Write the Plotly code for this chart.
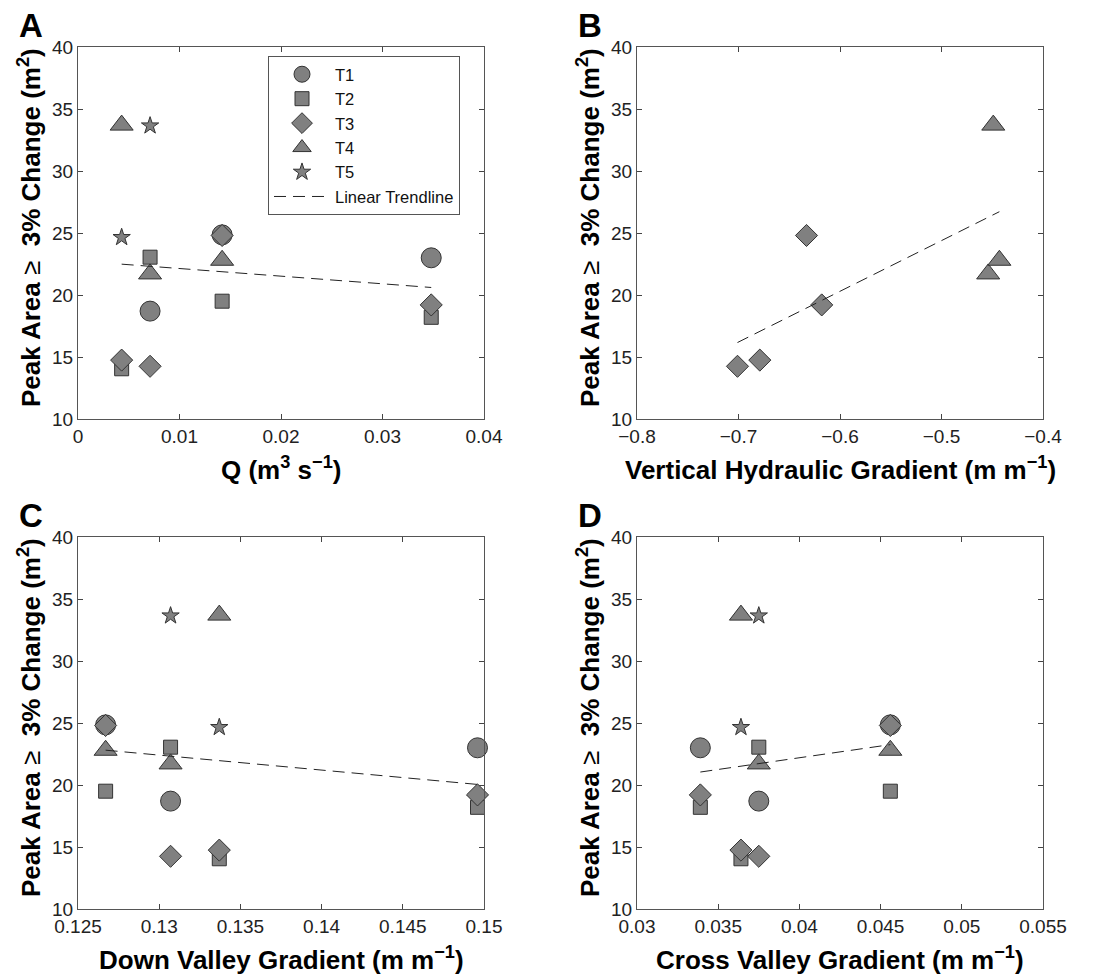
import numpy as np
import plotly.graph_objects as go

W, H = 1094, 979
FONT = "Liberation Sans"

# Reach-level explanatory variables (four reaches, ordered by discharge)
discharge = [0.0043, 0.0071, 0.0142, 0.0348]        # Q (m3 s-1)
down_valley = [0.1337, 0.1307, 0.1267, 0.1496]      # m m-1
cross_valley = [0.0364, 0.0375, 0.0456, 0.0339]     # m m-1

# Peak area with >= 3% change (m2) per transect and reach (None = not measured)
transects = ["T1", "T2", "T3", "T4", "T5"]
peak_t1 = [None, 18.7, 24.85, 23.0]
peak_t2 = [14.05, 23.05, 19.5, 18.2]
peak_t3 = [14.75, 14.25, 24.8, 19.2]
peak_t4 = [33.7, 21.7, 22.8, None]
peak_t5 = [24.65, 33.65, None, None]

# Vertical hydraulic gradient, measured on T3 and T4 only (m m-1)
vhg_t3 = [-0.679, -0.701, -0.633, -0.618]
vhg_t4 = [-0.449, -0.454, -0.443, None]

# Tick values and labels
yticks = [10, 15, 20, 25, 30, 35, 40]
xticks_a = [0, 0.01, 0.02, 0.03, 0.04]
xlabels_a = ["0", "0.01", "0.02", "0.03", "0.04"]
xticks_b = [-0.8, -0.7, -0.6, -0.5, -0.4]
xlabels_b = ["\u22120.8", "\u22120.7", "\u22120.6", "\u22120.5", "\u22120.4"]
xticks_c = [0.125, 0.13, 0.135, 0.14, 0.145, 0.15]
xlabels_c = ["0.125", "0.13", "0.135", "0.14", "0.145", "0.15"]
xticks_d = [0.03, 0.035, 0.04, 0.045, 0.05, 0.055]
xlabels_d = ["0.03", "0.035", "0.04", "0.045", "0.05", "0.055"]

peaks = [peak_t1, peak_t2, peak_t3, peak_t4, peak_t5]
symbols = ["circle", "square", "diamond", "triangle-up", "star"]
sizes = [20, 14, 17, 20, 13]
FILL = "#808080"
EDGE = "#333333"


def fx(p):
    return p / W


def fy(p):
    return 1 - p / H


panels = [
    dict(letter="A", n="", left=78, top=47, xvals=[discharge] * 5,
         ticks=xticks_a, labels=xlabels_a,
         xtitle="Q (m<sup>3</sup> s<sup>\u22121</sup>)"),
    dict(letter="B", n="2", left=637, top=47,
         xvals=[None, None, vhg_t3, vhg_t4, None],
         ticks=xticks_b, labels=xlabels_b,
         xtitle="Vertical Hydraulic Gradient (m m<sup>\u22121</sup>)"),
    dict(letter="C", n="3", left=78, top=537, xvals=[down_valley] * 5,
         ticks=xticks_c, labels=xlabels_c,
         xtitle="Down Valley Gradient (m m<sup>\u22121</sup>)"),
    dict(letter="D", n="4", left=637, top=537, xvals=[cross_valley] * 5,
         ticks=xticks_d, labels=xlabels_d,
         xtitle="Cross Valley Gradient (m m<sup>\u22121</sup>)"),
]
PW, PH = 406, 372

fig = go.Figure()
layout = dict(
    template="none",
    width=W, height=H, autosize=False,
    margin=dict(l=0, r=0, t=0, b=0, pad=0),
    paper_bgcolor="white", plot_bgcolor="white",
    font=dict(family=FONT, color="#111"),
    showlegend=True,
    legend=dict(
        x=fx(268), y=fy(56), xanchor="left", yanchor="top",
        bgcolor="white", bordercolor="#555", borderwidth=1,
        font=dict(family=FONT, size=16.5, color="#111"),
        itemwidth=56, tracegroupgap=0,
    ),
)
annotations = []

axis_common = dict(
    automargin=False,
    ticks="inside", ticklen=5, tickwidth=1, tickcolor="#444",
    showline=True, linecolor="#555", linewidth=1, mirror="ticks",
    showgrid=False, zeroline=False,
    tickfont=dict(family=FONT, size=19, color="#222"),
)

for pi, p in enumerate(panels):
    xa = "x" + p["n"]
    ya = "y" + p["n"]
    all_x, all_y = [], []
    for ti, name in enumerate(transects):
        xv = p["xvals"][ti]
        if xv is None:
            continue
        xs, ys = [], []
        for xval, yval in zip(xv, peaks[ti]):
            if xval is None or yval is None:
                continue
            xs.append(xval)
            ys.append(yval)
        all_x += xs
        all_y += ys
        fig.add_trace(go.Scatter(
            x=xs, y=ys, mode="markers", name=name, legendgroup=name,
            showlegend=(pi == 0), xaxis=xa, yaxis=ya, cliponaxis=False,
            marker=dict(symbol=symbols[ti], size=sizes[ti], color=FILL,
                        line=dict(color=EDGE, width=1)),
        ))
    # least-squares linear trend over every point of the panel
    slope, icpt = np.polyfit(all_x, all_y, 1)
    tx = np.array([min(all_x), max(all_x)])
    fig.add_trace(go.Scatter(
        x=tx, y=slope * tx + icpt, mode="lines", name="Linear Trendline",
        legendgroup="trend", showlegend=(pi == 0), xaxis=xa, yaxis=ya,
        line=dict(color="#222", width=1, dash="12px,7px"),
    ))

    left, top = p["left"], p["top"]
    layout["xaxis" + p["n"]] = dict(
        axis_common, domain=[fx(left), fx(left + PW)],
        range=[p["ticks"][0], p["ticks"][-1]],
        tickvals=p["ticks"], ticktext=p["labels"], anchor=ya,
    )
    layout["yaxis" + p["n"]] = dict(
        axis_common, domain=[fy(top + PH), fy(top)],
        range=[10, 40], tickvals=yticks, anchor=xa,
    )

    # panel letter
    annotations.append(dict(
        text="<b>%s</b>" % p["letter"], xref="paper", yref="paper",
        x=fx(left - 47.5), y=fy(top - 22), xanchor="center", yanchor="middle",
        showarrow=False, font=dict(family=FONT, size=33, color="black"),
    ))
    # x-axis title
    annotations.append(dict(
        text="<b>%s</b>" % p["xtitle"], xref="paper", yref="paper",
        x=fx(left + PW / 2), y=fy(top + PH + 49), xanchor="center",
        yanchor="middle", showarrow=False,
        font=dict(family=FONT, size=26, color="black"),
    ))
    # y-axis title
    annotations.append(dict(
        text="<b>Peak Area </b>\u2265<b>\u00a0 3% Change (m<sup>2</sup>)</b>",
        xref="paper", yref="paper", textangle=-90,
        x=fx(left - 49), y=fy(top + 181), xanchor="center", yanchor="middle",
        showarrow=False, font=dict(family=FONT, size=26, color="black"),
    ))

layout["annotations"] = annotations
fig.update_layout(**layout)
fig.write_html("out.html")
